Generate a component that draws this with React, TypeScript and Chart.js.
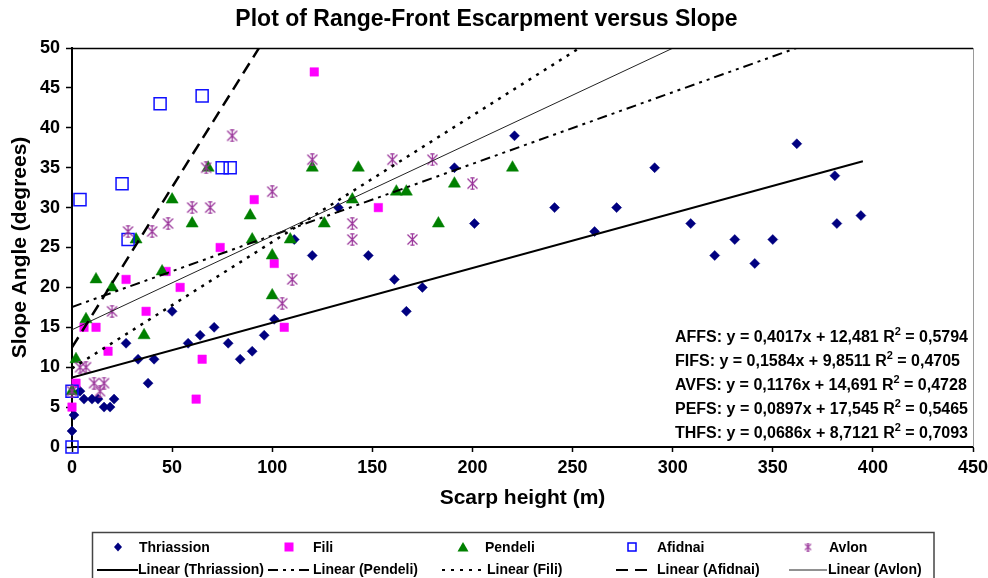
import React, { useEffect, useRef } from 'react';
import { Chart, registerables } from 'chart.js';

Chart.register(...registerables);

// ---------- data ----------
const thriassionX = [0, 1, 4, 6, 10, 13, 16, 19, 21, 27, 33, 38, 41, 50, 58, 64, 71, 78, 84, 90, 96, 101, 111, 120, 133, 148, 161, 167, 175, 191, 201, 221, 241, 261, 272, 291, 309, 321, 331, 341, 350, 362, 381, 382, 394];
const thriassionY = [2, 4, 7, 6, 6, 6, 5, 5, 6, 13, 11, 8, 11, 17, 13, 14, 15, 13, 11, 12, 14, 16, 26, 24, 30, 24, 21, 17, 20, 35, 28, 39, 30, 27, 30, 35, 28, 24, 26, 23, 26, 38, 34, 28, 29];

const filiX = [0, 2, 6, 12, 18, 27, 37, 47, 54, 62, 65, 74, 91, 101, 106, 121, 153];
const filiY = [5, 8, 15, 15, 12, 21, 17, 22, 20, 6, 11, 25, 31, 23, 15, 47, 30];

const pendeliX = [0, 2, 7, 12, 20, 32, 36, 45, 50, 60, 68, 89, 90, 100, 100, 109, 120, 126, 140, 143, 162, 167, 183, 191, 220];
const pendeliY = [7, 11, 16, 21, 20, 26, 14, 22, 31, 28, 35, 29, 26, 24, 19, 26, 35, 28, 31, 35, 32, 32, 28, 33, 35];

const afidnaiX = [0, 0, 4, 25, 28, 44, 65, 75, 79];
const afidnaiY = [0, 7, 31, 33, 26, 43, 44, 35, 35];

const avlonX = [0, 4, 7, 11, 14, 16, 20, 28, 40, 48, 60, 67, 69, 80, 100, 105, 110, 120, 140, 140, 160, 170, 180, 200];
const avlonY = [7, 10, 10, 8, 7, 8, 17, 27, 27, 28, 30, 35, 30, 39, 32, 18, 21, 36, 28, 26, 36, 26, 36, 33];

// trend lines (equations as printed on the chart)
const trendSeries = ['Afidnai', 'Fili', 'Avlon', 'Pendeli', 'Thriassion'];
const trendCodes = ['AFFS', 'FIFS', 'AVFS', 'PEFS', 'THFS'];
const trendSlopes = [0.4017, 0.1584, 0.1176, 0.0897, 0.0686];
const trendIntercepts = [12.481, 9.8511, 14.691, 17.545, 8.7121];
const trendR2 = [0.5794, 0.4705, 0.4728, 0.5465, 0.7093];
const trendEndX = [450, 450, 450, 450, 395];

const xTicksMax = 450;
const yTicksMax = 50;

// ---------- helpers ----------
const FONT = "'Liberation Sans', Arial, Helvetica, sans-serif";
const PURPLE = '#993399';

function pts(xs: number[], ys: number[]) {
  return xs.map((x, i) => ({ x, y: ys[i] }));
}

function makeAsterisk(size: number, color: string, lw: number) {
  const c = document.createElement('canvas');
  c.width = size;
  c.height = size;
  const g = c.getContext('2d')!;
  g.strokeStyle = color;
  g.lineWidth = lw;
  const m = size / 2;
  const a = 1.5;
  const b = size - 1.5;
  g.beginPath();
  g.moveTo(a, a); g.lineTo(b, b);
  g.moveTo(b, a); g.lineTo(a, b);
  g.moveTo(m, 0.5); g.lineTo(m, size - 0.5);
  g.moveTo(m - size * 0.16, 0.8); g.lineTo(m + size * 0.16, 0.8);
  g.moveTo(m - size * 0.16, size - 0.8); g.lineTo(m + size * 0.16, size - 0.8);
  g.stroke();
  return c;
}

const lineStyles: Record<string, { dash: number[]; width: number; color: string }> = {
  Thriassion: { dash: [], width: 2, color: '#000' },
  Pendeli: { dash: [10, 5, 3, 5, 3, 5], width: 2, color: '#000' },
  Fili: { dash: [3, 6], width: 2.5, color: '#000' },
  Afidnai: { dash: [12, 7], width: 2.5, color: '#000' },
  Avlon: { dash: [], width: 1, color: '#222' },
};

function fmt(v: number) {
  return String(v).replace('.', ',');
}

function drawMarker(ctx: CanvasRenderingContext2D, kind: string, x: number, y: number, small: HTMLCanvasElement) {
  ctx.save();
  ctx.setLineDash([]);
  if (kind === 'Thriassion') {
    ctx.fillStyle = '#000080';
    ctx.beginPath();
    ctx.moveTo(x, y - 4.5); ctx.lineTo(x + 4, y); ctx.lineTo(x, y + 4.5); ctx.lineTo(x - 4, y);
    ctx.closePath(); ctx.fill();
  } else if (kind === 'Fili') {
    ctx.fillStyle = '#FF00FF';
    ctx.fillRect(x - 4.5, y - 4.5, 9, 9);
  } else if (kind === 'Pendeli') {
    ctx.fillStyle = '#008000';
    ctx.beginPath();
    ctx.moveTo(x, y - 5); ctx.lineTo(x + 5.5, y + 4.5); ctx.lineTo(x - 5.5, y + 4.5);
    ctx.closePath(); ctx.fill();
  } else if (kind === 'Afidnai') {
    ctx.strokeStyle = '#0000FF';
    ctx.lineWidth = 1.5;
    ctx.strokeRect(x - 4, y - 4, 8, 8);
  } else if (kind === 'Avlon') {
    ctx.drawImage(small, x - small.width / 2, y - small.height / 2);
  }
  ctx.restore();
}

export default function App() {
  const ref = useRef<HTMLCanvasElement | null>(null);

  useEffect(() => {
    if (!ref.current) return;
    const bigStar = makeAsterisk(13, PURPLE, 1.2);
    const smallStar = makeAsterisk(9, PURPLE, 1.1);

    const trendDatasets = trendSeries.map((name, i) => {
      const st = lineStyles[name];
      const xe = trendEndX[i];
      return {
        label: `Linear (${name})`,
        data: [
          { x: 0, y: trendIntercepts[i] },
          { x: xe, y: trendSlopes[i] * xe + trendIntercepts[i] },
        ],
        showLine: true,
        pointRadius: 0,
        borderColor: st.color,
        borderWidth: st.width,
        borderDash: st.dash,
        backgroundColor: 'transparent',
        fill: false,
      };
    });

    const datasets: any[] = [
      ...trendDatasets,
      {
        label: 'Avlon',
        data: pts(avlonX, avlonY),
        pointStyle: bigStar,
        pointRadius: 6,
        showLine: false,
        clip: false,
      },
      {
        label: 'Afidnai',
        data: pts(afidnaiX, afidnaiY),
        pointStyle: 'rect',
        pointRadius: 8.5,
        pointBackgroundColor: 'rgba(0,0,0,0)',
        pointBorderColor: '#1010FF',
        pointBorderWidth: 1.5,
        showLine: false,
        clip: false,
      },
      {
        label: 'Pendeli',
        data: pts(pendeliX, pendeliY),
        pointStyle: 'triangle',
        pointRadius: 7,
        pointBackgroundColor: '#008000',
        pointBorderColor: '#008000',
        pointBorderWidth: 0.5,
        showLine: false,
        clip: false,
      },
      {
        label: 'Fili',
        data: pts(filiX, filiY),
        pointStyle: 'rect',
        pointRadius: 6,
        pointBackgroundColor: '#FF00FF',
        pointBorderColor: '#FF00FF',
        pointBorderWidth: 0.5,
        showLine: false,
        clip: false,
      },
      {
        label: 'Thriassion',
        data: pts(thriassionX, thriassionY),
        pointStyle: 'rectRot',
        pointRadius: 5,
        pointBackgroundColor: '#000080',
        pointBorderColor: '#000080',
        pointBorderWidth: 0.5,
        showLine: false,
        clip: false,
      },
    ];

    const overlay = {
      id: 'overlay',
      afterDraw(chart: any) {
        const ctx: CanvasRenderingContext2D = chart.ctx;
        const a = chart.chartArea;
        ctx.save();
        // top and right frame
        ctx.setLineDash([]);
        ctx.strokeStyle = '#000';
        ctx.lineWidth = 1.5;
        ctx.beginPath();
        ctx.moveTo(a.left, a.top + 0.5);
        ctx.lineTo(a.right, a.top + 0.5);
        ctx.stroke();
        ctx.strokeStyle = '#9a9a9a';
        ctx.lineWidth = 1;
        ctx.beginPath();
        ctx.moveTo(a.right + 0.5, a.top);
        ctx.lineTo(a.right + 0.5, a.bottom);
        ctx.stroke();

        // equations
        ctx.fillStyle = '#000';
        ctx.textBaseline = 'alphabetic';
        ctx.textAlign = 'left';
        const ex = 675;
        trendCodes.forEach((code, i) => {
          const by = 341.7 + 24 * i;
          const part1 = `${code}: y = ${fmt(trendSlopes[i])}x + ${fmt(trendIntercepts[i])} R`;
          ctx.font = `bold 16px ${FONT}`;
          ctx.fillText(part1, ex, by);
          let w = ctx.measureText(part1).width;
          ctx.font = `bold 11px ${FONT}`;
          ctx.fillText('2', ex + w, by - 7);
          w += ctx.measureText('2').width;
          ctx.font = `bold 16px ${FONT}`;
          ctx.fillText(` = ${fmt(trendR2[i])}`, ex + w, by);
        });

        // legend
        ctx.strokeStyle = '#444';
        ctx.lineWidth = 1.5;
        ctx.strokeRect(92.5, 532.5, 934 - 92.5, 60);
        ctx.font = `bold 14px ${FONT}`;
        ctx.textBaseline = 'middle';
        const markerItems = ['Thriassion', 'Fili', 'Pendeli', 'Afidnai', 'Avlon'];
        const mx = [118, 289, 463, 632, 808];
        const mtx = [139, 313, 485, 657, 829];
        markerItems.forEach((name, i) => {
          const ds = chart.data.datasets.find((d: any) => d.label === name);
          drawMarker(ctx, name, mx[i], 547, smallStar);
          ctx.fillStyle = '#000';
          ctx.fillText(ds ? ds.label : name, mtx[i], 548);
        });
        const lineItems = ['Thriassion', 'Pendeli', 'Fili', 'Afidnai', 'Avlon'];
        const lx0 = [97, 268, 442, 616, 789];
        const lx1 = [138, 312, 483, 654, 827];
        const ltx = [138, 313, 487, 657, 828];
        lineItems.forEach((name, i) => {
          const ds = chart.data.datasets.find((d: any) => d.label === `Linear (${name})`);
          ctx.save();
          ctx.strokeStyle = ds.borderColor;
          ctx.lineWidth = Math.min(ds.borderWidth, 2);
          ctx.setLineDash(ds.borderDash || []);
          ctx.beginPath();
          ctx.moveTo(lx0[i], 570);
          ctx.lineTo(lx1[i], 570);
          ctx.stroke();
          ctx.restore();
          ctx.fillStyle = '#000';
          ctx.fillText(ds.label, ltx[i], 570);
        });
        ctx.restore();
      },
    };

    const chart = new Chart(ref.current, {
      type: 'scatter',
      data: { datasets },
      options: {
        animation: false,
        responsive: false,
        devicePixelRatio: 1,
        layout: { padding: { left: 0, right: 15, top: 0, bottom: 67 } },
        plugins: {
          legend: { display: false },
          tooltip: { enabled: false },
          title: {
            display: true,
            text: 'Plot of Range-Front Escarpment versus Slope',
            color: '#000',
            font: { family: FONT, size: 23, weight: 'bold' },
            padding: { top: 6, bottom: 14.4 },
          },
        },
        scales: {
          x: {
            type: 'linear',
            position: 'bottom',
            min: 0,
            max: xTicksMax,
            ticks: { stepSize: 50, color: '#000', font: { family: FONT, size: 18, weight: 'bold' }, padding: 5 },
            grid: { drawOnChartArea: false, drawTicks: true, tickLength: 5, tickColor: '#000', tickWidth: 1.5 },
            border: { display: true, color: '#000', width: 2 },
            title: { display: true, text: 'Scarp height (m)', color: '#000', font: { family: FONT, size: 21, weight: 'bold' }, padding: 0 },
            afterFit: (s: any) => { s.height = 64; s.paddingLeft = 0; s.paddingRight = 0; },
          },
          y: {
            type: 'linear',
            min: 0,
            max: yTicksMax,
            ticks: { stepSize: 5, color: '#000', font: { family: FONT, size: 18, weight: 'bold' }, padding: 6 },
            grid: { drawOnChartArea: false, drawTicks: true, tickLength: 6, tickColor: '#000', tickWidth: 1.5 },
            border: { display: true, color: '#000', width: 2 },
            title: { display: true, text: 'Slope Angle (degrees)', color: '#000', font: { family: FONT, size: 21, weight: 'bold' }, padding: { top: 8, bottom: 0 } },
            afterFit: (s: any) => { s.width = 72; s.paddingTop = 0; s.paddingBottom = 0; },
          },
        },
      } as any,
      plugins: [overlay],
    });
    return () => chart.destroy();
  }, []);

  return (
    <div style={{ position: 'absolute', left: 0, top: 0, width: 988, height: 578, background: '#fff' }}>
      <canvas ref={ref} width={988} height={578} style={{ display: 'block' }} />
    </div>
  );
}
